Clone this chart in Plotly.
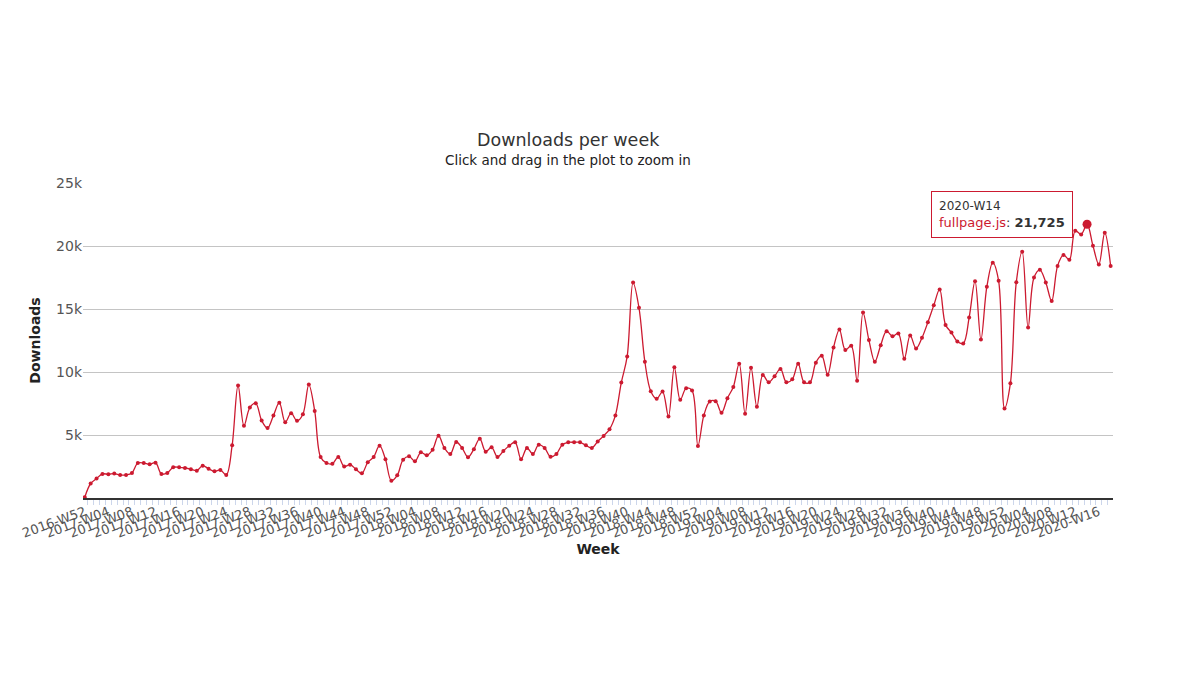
import plotly.graph_objects as go

# semanas ISO, de 2016-W52 ate 2020-W18
semanas = ["2016-W52"]
for ano in [2017, 2018, 2019]:
    semanas += [f"{ano}-W{w:02d}" for w in range(1, 53)]
semanas += [f"2020-W{w:02d}" for w in range(1, 19)]

# downloads por semana (fullpage.js)
downloads = [
    60, 1150, 1545, 1910, 1885, 1935, 1830, 1830, 1990, 2775,
    2775, 2670, 2800, 1910, 1990, 2435, 2435, 2380, 2280, 2170,
    2565, 2320, 2120, 2225, 1830, 4190, 8930, 5735, 7175, 7515,
    6150, 5550, 6545, 7565, 6020, 6730, 6125, 6650, 9005, 6910,
    3245, 2775, 2720, 3260, 2500, 2646, 2275, 1958, 2831, 3255,
    4154, 3069, 1376, 1799, 3043, 3307, 2910, 3625, 3387, 3837,
    4948, 3969, 3493, 4445, 3969, 3240, 3875, 4710, 3678, 4022,
    3255, 3731, 4154, 4419, 3069, 3969, 3493, 4234, 3969, 3281,
    3493, 4234, 4419, 4419, 4419, 4181, 3969, 4480, 4930, 5450,
    6555, 9158, 11236, 17100, 15100, 10815, 8475, 7870, 8450, 6475,
    10370, 7790, 8710, 8530, 4135, 6555, 7660, 7685, 6765, 7925,
    8815, 10660, 6690, 10340, 7240, 9760, 9185, 9660, 10240, 9185,
    9420, 10660, 9185, 9185, 10740, 11290, 9790, 11950, 13370, 11740,
    12080, 9300, 14720, 12530, 10820, 12130, 13240, 12840, 13050, 11055,
    12900, 11870, 12710, 13950, 15290, 16550, 13740, 13130, 12420, 12265,
    14320, 17210, 12580, 16760, 18680, 17240, 7110, 9110, 17130, 19550,
    13530, 17500, 18110, 17110, 15630, 18420, 19290, 18900, 21210, 20920,
    21725, 20025, 18530, 21050, 18420,
]

pacote = "fullpage.js"
semana_destaque = "2020-W14"

y_ticks = [5000, 10000, 15000, 20000, 25000]
y_labels = ["5k", "10k", "15k", "20k", "25k"]

cor = "#cc1a30"
fonte = "DejaVu Sans"

idx = list(range(len(semanas)))
i_dest = semanas.index(semana_destaque)

fig = go.Figure()
fig.add_trace(go.Scatter(
    x=idx, y=downloads, mode="lines+markers", name=pacote,
    line=dict(color=cor, width=1.3, shape="spline", smoothing=1),
    marker=dict(color=cor, size=4),
))
fig.add_trace(go.Scatter(
    x=[i_dest], y=[downloads[i_dest]], mode="markers",
    marker=dict(color=cor, size=9), showlegend=False,
))

# caixa do tooltip
fig.add_annotation(
    x=i_dest, y=downloads[i_dest], xref="x", yref="y",
    text=f"<span style='font-size:12px'>{semana_destaque}</span><br>"
         f"<span style='color:{cor}'>{pacote}</span>: <b>{downloads[i_dest]:,}</b>",
    showarrow=False, align="left", xanchor="center", yanchor="middle",
    xshift=-85, yshift=10,
    font=dict(family=fonte, size=13, color="#333"),
    bordercolor=cor, borderwidth=1, borderpad=7, bgcolor="white",
)

fig.add_annotation(
    text="Downloads per week", xref="paper", yref="paper",
    x=0.471, y=1.135, xanchor="center", yanchor="middle", showarrow=False,
    font=dict(family=fonte, size=17.5, color="#333"),
)
fig.add_annotation(
    text="Click and drag in the plot to zoom in", xref="paper", yref="paper",
    x=0.471, y=1.073, xanchor="center", yanchor="middle", showarrow=False,
    font=dict(family=fonte, size=13.5, color="#222"),
)

fig.update_layout(
    width=1200, height=684,
    margin=dict(l=71, r=95, t=175, b=194),
    plot_bgcolor="white", paper_bgcolor="white",
    showlegend=False,
    font=dict(family=fonte, color="#555"),
    xaxis=dict(
        range=[-0.3, 174.4],
        tickmode="array", tickvals=idx[::4], ticktext=semanas[::4],
        tickangle=-20, tickfont=dict(size=13, color="#555"),
        ticks="", showgrid=False, zeroline=False,
        showline=True, linecolor="#333", linewidth=1.5,
        minor=dict(ticks="outside", tick0=0.5, dtick=1, ticklen=5,
                   tickcolor="#ccd6eb", showgrid=False),
        title=dict(text="<b>Week</b>", font=dict(size=14, color="#222"), standoff=4),
    ),
    yaxis=dict(
        range=[0, 25000],
        tickmode="array", tickvals=y_ticks, ticktext=y_labels,
        tickfont=dict(size=14, color="#555"),
        showgrid=True, gridcolor="#c4c4c4", gridwidth=1, zeroline=False,
        title=dict(text="<b>Downloads</b>", font=dict(size=14, color="#222"), standoff=12),
    ),
)

fig.write_html("out.html")
